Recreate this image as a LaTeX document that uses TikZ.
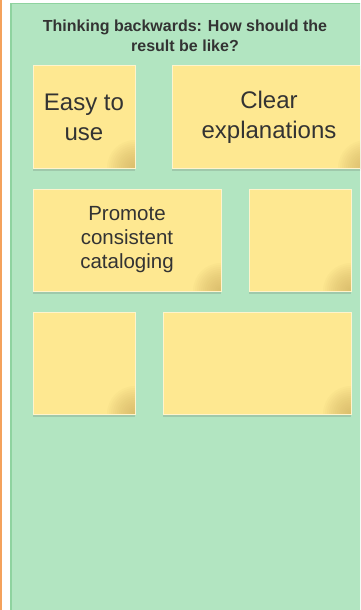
\documentclass[tikz,border=0pt]{standalone}
\usepackage{fontspec}
\setmainfont{Liberation Sans}
\usetikzlibrary{positioning,shadows}
\definecolor{panelgreen}{HTML}{B2E5C1}
\definecolor{panelborder}{HTML}{8ED39F}
\definecolor{edgeorange}{HTML}{F4A25C}
\definecolor{notefill}{HTML}{FEE891}
\definecolor{noteedge}{HTML}{FFF4CC}
\definecolor{notedark}{HTML}{C9A85A}
\definecolor{inkgray}{HTML}{333333}

\begin{document}
\begin{tikzpicture}[x=1pt,y=-1pt,
	note/.style={draw=noteedge, line width=1pt, fill=notefill, inner sep=0pt, outer sep=0pt,
		minimum height=102pt, align=center, text=inkgray,
		drop shadow={shadow xshift=0pt, shadow yshift=-3pt, opacity=0.18, fill=black!70},
		path picture={\foreach \r in {2,4,...,28}
			\fill[notedark, fill opacity=0.06] (path picture bounding box.south east) circle (\r pt);}},
	bigtext/.style={font=\fontsize{24}{30}\selectfont},
	midtext/.style={font=\fontsize{20.5}{24}\selectfont},
	title/.style={align=center, text=inkgray, font=\fontsize{16}{20}\selectfont\bfseries}]
	\useasboundingbox (0,0) rectangle (360,610);
	\clip (0,0) rectangle (360,610);
	\fill[white] (0,0) rectangle (360,610);
	\fill[edgeorange] (0,0) rectangle (2,610);
	\draw[panelborder, fill=panelgreen, line width=1.5pt] (10.75,3.75) rectangle (364,614);

	\node[title] (head) at (185,36) {Thinking backwards: How should the\\result be like?};

	% row 1
	\node[note, bigtext, minimum width=102pt, anchor=north west] (easy) at (33,66) {Easy to\\use};
	\node[note, bigtext, minimum width=194pt, right=37pt of easy] (clear) {Clear\\explanations};
	% row 2
	\node[note, midtext, minimum width=188pt, below=21pt of easy.south west, anchor=north west] (promote) {Promote\\consistent\\cataloging};
	\node[note, minimum width=102pt, right=28pt of promote] (blankA) {};
	% row 3
	\node[note, minimum width=102pt, below=21pt of promote.south west, anchor=north west] (blankB) {};
	\node[note, minimum width=188pt, right=28pt of blankB] (blankC) {};
\end{tikzpicture}
\end{document}
